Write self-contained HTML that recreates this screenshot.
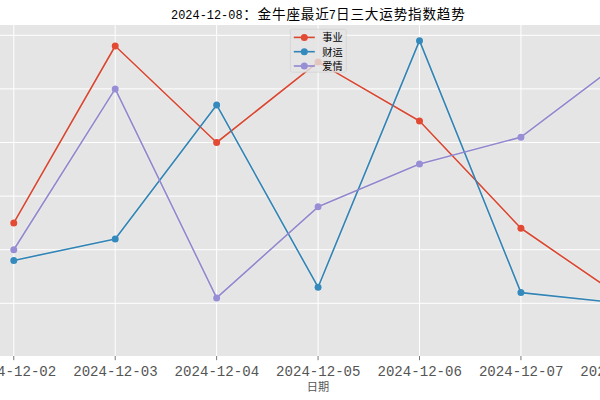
<!DOCTYPE html>
<html lang="zh-CN">
<head>
<meta charset="utf-8">
<title>2024-12-08：金牛座最近7日三大运势指数趋势</title>
<style>
html,body{margin:0;padding:0;background:#fff;}
body{width:600px;height:400px;overflow:hidden;font-family:"Liberation Sans",sans-serif;}
#chart{width:600px;height:400px;overflow:hidden;margin:0;}
#chart svg{display:block;}
</style>
</head>
<body>
<figure id="chart">
<svg width="600" height="400" viewBox="0 0 600 400" role="img" aria-label="2024-12-08：金牛座最近7日三大运势指数趋势">
<title>2024-12-08：金牛座最近7日三大运势指数趋势</title>
<defs><clipPath id="ax"><rect x="0" y="25" width="600" height="331"/></clipPath></defs>
<rect width="600" height="400" fill="#fff"/>
<rect x="0" y="25" width="600" height="331" fill="#E5E5E5"/>
<path d="M13.78 25 V356 M115.21 25 V356 M216.64 25 V356 M318.07 25 V356 M419.50 25 V356 M520.93 25 V356 M622.36 25 V356 M0 35.30 H600 M0 88.90 H600 M0 142.50 H600 M0 196.10 H600 M0 249.70 H600 M0 303.30 H600 M0 356.90 H600" stroke="#fff" stroke-width="1" fill="none" clip-path="url(#ax)"/>
<g clip-path="url(#ax)">
<g stroke="#fff" opacity="0.22"><polyline points="13.78,222.90 115.21,46.02 216.64,142.50 318.07,62.10 419.50,121.06 520.93,228.26 622.36,297.94" fill="none" stroke-width="3.4" stroke-linejoin="round"/><circle cx="13.78" cy="222.90" r="4.4" stroke="none" fill="#fff"/><circle cx="115.21" cy="46.02" r="4.4" stroke="none" fill="#fff"/><circle cx="216.64" cy="142.50" r="4.4" stroke="none" fill="#fff"/><circle cx="318.07" cy="62.10" r="4.4" stroke="none" fill="#fff"/><circle cx="419.50" cy="121.06" r="4.4" stroke="none" fill="#fff"/><circle cx="520.93" cy="228.26" r="4.4" stroke="none" fill="#fff"/><circle cx="622.36" cy="297.94" r="4.4" stroke="none" fill="#fff"/><polyline points="13.78,260.42 115.21,238.98 216.64,104.98 318.07,287.22 419.50,40.66 520.93,292.58 622.36,303.30" fill="none" stroke-width="3.4" stroke-linejoin="round"/><circle cx="13.78" cy="260.42" r="4.4" stroke="none" fill="#fff"/><circle cx="115.21" cy="238.98" r="4.4" stroke="none" fill="#fff"/><circle cx="216.64" cy="104.98" r="4.4" stroke="none" fill="#fff"/><circle cx="318.07" cy="287.22" r="4.4" stroke="none" fill="#fff"/><circle cx="419.50" cy="40.66" r="4.4" stroke="none" fill="#fff"/><circle cx="520.93" cy="292.58" r="4.4" stroke="none" fill="#fff"/><circle cx="622.36" cy="303.30" r="4.4" stroke="none" fill="#fff"/><polyline points="13.78,249.70 115.21,88.90 216.64,297.94 318.07,206.82 419.50,163.94 520.93,137.14 622.36,60.49" fill="none" stroke-width="3.4" stroke-linejoin="round"/><circle cx="13.78" cy="249.70" r="4.4" stroke="none" fill="#fff"/><circle cx="115.21" cy="88.90" r="4.4" stroke="none" fill="#fff"/><circle cx="216.64" cy="297.94" r="4.4" stroke="none" fill="#fff"/><circle cx="318.07" cy="206.82" r="4.4" stroke="none" fill="#fff"/><circle cx="419.50" cy="163.94" r="4.4" stroke="none" fill="#fff"/><circle cx="520.93" cy="137.14" r="4.4" stroke="none" fill="#fff"/><circle cx="622.36" cy="60.49" r="4.4" stroke="none" fill="#fff"/></g>
<g><title>事业</title><polyline points="13.78,222.90 115.21,46.02 216.64,142.50 318.07,62.10 419.50,121.06 520.93,228.26 622.36,297.94" fill="none" stroke="#DA4731" stroke-width="1.6" stroke-linejoin="round"/>
<circle cx="13.78" cy="222.90" r="3.5" fill="#E24A33"/><circle cx="115.21" cy="46.02" r="3.5" fill="#E24A33"/><circle cx="216.64" cy="142.50" r="3.5" fill="#E24A33"/><circle cx="318.07" cy="62.10" r="3.5" fill="#E24A33"/><circle cx="419.50" cy="121.06" r="3.5" fill="#E24A33"/><circle cx="520.93" cy="228.26" r="3.5" fill="#E24A33"/><circle cx="622.36" cy="297.94" r="3.5" fill="#E24A33"/></g>
<g><title>财运</title><polyline points="13.78,260.42 115.21,238.98 216.64,104.98 318.07,287.22 419.50,40.66 520.93,292.58 622.36,303.30" fill="none" stroke="#3184B5" stroke-width="1.6" stroke-linejoin="round"/>
<circle cx="13.78" cy="260.42" r="3.5" fill="#348ABD"/><circle cx="115.21" cy="238.98" r="3.5" fill="#348ABD"/><circle cx="216.64" cy="104.98" r="3.5" fill="#348ABD"/><circle cx="318.07" cy="287.22" r="3.5" fill="#348ABD"/><circle cx="419.50" cy="40.66" r="3.5" fill="#348ABD"/><circle cx="520.93" cy="292.58" r="3.5" fill="#348ABD"/><circle cx="622.36" cy="303.30" r="3.5" fill="#348ABD"/></g>
<g><title>爱情</title><polyline points="13.78,249.70 115.21,88.90 216.64,297.94 318.07,206.82 419.50,163.94 520.93,137.14 622.36,60.49" fill="none" stroke="#9188CE" stroke-width="1.6" stroke-linejoin="round"/>
<circle cx="13.78" cy="249.70" r="3.5" fill="#988ED5"/><circle cx="115.21" cy="88.90" r="3.5" fill="#988ED5"/><circle cx="216.64" cy="297.94" r="3.5" fill="#988ED5"/><circle cx="318.07" cy="206.82" r="3.5" fill="#988ED5"/><circle cx="419.50" cy="163.94" r="3.5" fill="#988ED5"/><circle cx="520.93" cy="137.14" r="3.5" fill="#988ED5"/><circle cx="622.36" cy="60.49" r="3.5" fill="#988ED5"/></g>
</g>
<path d="M13.78 356 v4.2 M115.21 356 v4.2 M216.64 356 v4.2 M318.07 356 v4.2 M419.50 356 v4.2 M520.93 356 v4.2" stroke="#555" stroke-width="0.8" fill="none"/>
<g font-family="'Liberation Mono', monospace" font-size="14.1" fill="#555" text-anchor="middle">
<g><title>2024-12-02</title><text x="14.00" y="375.50" textLength="84.5" lengthAdjust="spacing">2024-12-02</text></g>
<g><title>2024-12-03</title><text x="115.43" y="375.50" textLength="84.5" lengthAdjust="spacing">2024-12-03</text></g>
<g><title>2024-12-04</title><text x="216.86" y="375.50" textLength="84.5" lengthAdjust="spacing">2024-12-04</text></g>
<g><title>2024-12-05</title><text x="318.29" y="375.50" textLength="84.5" lengthAdjust="spacing">2024-12-05</text></g>
<g><title>2024-12-06</title><text x="419.72" y="375.50" textLength="84.5" lengthAdjust="spacing">2024-12-06</text></g>
<g><title>2024-12-07</title><text x="521.15" y="375.50" textLength="84.5" lengthAdjust="spacing">2024-12-07</text></g>
<g><title>2024-12-08</title><text x="622.58" y="375.50" textLength="84.5" lengthAdjust="spacing">2024-12-08</text></g>
</g>
<g><title>图例</title><rect x="290.4" y="29.2" width="55.9" height="43" rx="2" ry="2" fill="#E5E5E5" fill-opacity="0.8" stroke="#CCCCCC" stroke-opacity="0.8" stroke-width="0.7"/>
<g><title>事业</title><path d="M293.80 37.40 h21" stroke="#DA4731" stroke-width="1.6"/><circle cx="304.30" cy="37.40" r="3.5" fill="#E24A33"/><text x="322.32" y="41.48" font-family="'Liberation Sans', 'Noto Sans CJK SC', sans-serif" font-size="10.2" fill="#000">事业</text></g>
<g><title>财运</title><path d="M293.80 51.70 h21" stroke="#3184B5" stroke-width="1.6"/><circle cx="304.30" cy="51.70" r="3.5" fill="#348ABD"/><text x="322.32" y="55.78" font-family="'Liberation Sans', 'Noto Sans CJK SC', sans-serif" font-size="10.2" fill="#000">财运</text></g>
<g><title>爱情</title><path d="M293.80 66.00 h21" stroke="#9188CE" stroke-width="1.6"/><circle cx="304.30" cy="66.00" r="3.5" fill="#988ED5"/><text x="322.32" y="70.08" font-family="'Liberation Sans', 'Noto Sans CJK SC', sans-serif" font-size="10.2" fill="#000">爱情</text></g>
</g>
<g><title>2024-12-08：金牛座最近7日三大运势指数趋势</title>
<text x="171.04" y="18.60" font-family="'Liberation Mono', monospace" font-size="11.9" fill="#000" textLength="71.5" lengthAdjust="spacing">2024-12-08</text>
<text x="243.14" y="18.84" font-family="'Liberation Sans', 'Noto Sans CJK SC', sans-serif" font-size="13.6" fill="#000">：</text>
<text x="257.44" y="18.84" font-family="'Liberation Sans', 'Noto Sans CJK SC', sans-serif" font-size="13.6" fill="#000" textLength="71.5" lengthAdjust="spacing">金牛座最近</text>
<text x="328.69" y="18.60" font-family="'Liberation Mono', monospace" font-size="11.9" fill="#000">7</text>
<text x="336.09" y="18.84" font-family="'Liberation Sans', 'Noto Sans CJK SC', sans-serif" font-size="13.6" fill="#000" textLength="128.7" lengthAdjust="spacing">日三大运势指数趋势</text>
</g>
<g><title>日期</title><text x="306.79" y="390.69" font-family="'Liberation Sans', 'Noto Sans CJK SC', sans-serif" font-size="11.2" fill="#555">日期</text></g>
</svg>
</figure>
</body>
</html>
